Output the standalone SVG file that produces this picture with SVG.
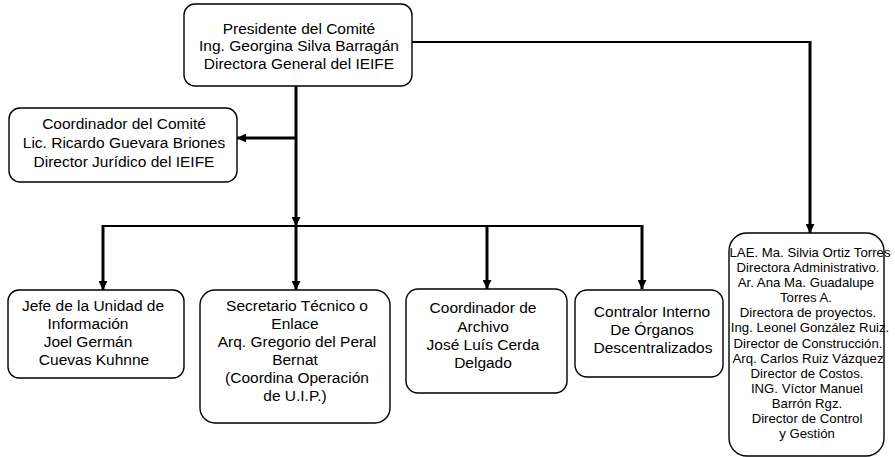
<svg xmlns="http://www.w3.org/2000/svg" width="895" height="457" viewBox="0 0 895 457">
<style>
.box{fill:#fff;stroke:#000;stroke-width:1.4}
.t{font-family:"Liberation Sans",Arial,sans-serif;font-size:15.5px;fill:#000;text-anchor:middle}
.s{font-family:"Liberation Sans",Arial,sans-serif;font-size:13.2px;fill:#000;text-anchor:middle}
.thick{fill:none;stroke:#000;stroke-width:3}
.thin{fill:none;stroke:#000;stroke-width:2}
</style>
<defs>
<marker id="ah" markerUnits="userSpaceOnUse" markerWidth="9" markerHeight="9" refX="9" refY="4.5" orient="auto">
<path d="M0,0 L9,4.5 L0,9 z" fill="#000"/>
</marker>
</defs>
<rect width="895" height="457" fill="#fff"/>
<g id="connectors">
<path class="thin" d="M412,42 H810"/>
<path class="thick" d="M810,41 V233" marker-end="url(#ah)"/>
<path class="thick" d="M296,86 V226" marker-end="url(#ah)"/>
<path class="thick" d="M296,138 H237" marker-end="url(#ah)"/>
<path class="thin" d="M103,226 H642"/>
<path class="thick" d="M103,225 V290" marker-end="url(#ah)"/>
<path class="thick" d="M296,226 V290" marker-end="url(#ah)"/>
<path class="thick" d="M487,225 V289" marker-end="url(#ah)"/>
<path class="thick" d="M642,225 V289" marker-end="url(#ah)"/>
</g>
<g id="presidente">
<rect class="box" x="184" y="4" width="228" height="82" rx="11"/>
<text class="t" x="299" y="33.5">Presidente del Comité</text>
<text class="t" x="299" y="51.3">Ing. Georgina Silva Barragán</text>
<text class="t" x="299" y="69">Directora General del IEIFE</text>
</g>
<g id="coordinador">
<rect class="box" x="9" y="108" width="228" height="74" rx="11"/>
<text class="t" x="124" y="129">Coordinador del Comité</text>
<text class="t" x="124" y="148">Lic. Ricardo Guevara Briones</text>
<text class="t" x="124" y="167">Director Jurídico del IEIFE</text>
</g>
<g id="jefe">
<rect class="box" x="8" y="290" width="176" height="88" rx="11"/>
<text class="t" x="93" y="310.7">Jefe de la Unidad de</text>
<text class="t" x="88" y="328.8">Información</text>
<text class="t" x="88" y="347">Joel Germán</text>
<text class="t" x="94" y="365">Cuevas Kuhnne</text>
</g>
<g id="secretario">
<rect class="box" x="200" y="290" width="190" height="133" rx="15"/>
<text class="t" x="297" y="310.7">Secretario Técnico o</text>
<text class="t" x="295" y="328.8">Enlace</text>
<text class="t" x="297" y="347">Arq. Gregorio del Peral</text>
<text class="t" x="295" y="365">Bernat</text>
<text class="t" x="297" y="383.2">(Coordina Operación</text>
<text class="t" x="295" y="401.4">de U.I.P.)</text>
</g>
<g id="archivo">
<rect class="box" x="406" y="289" width="161" height="104" rx="12"/>
<text class="t" x="483" y="313.3">Coordinador de</text>
<text class="t" x="483" y="331.6">Archivo</text>
<text class="t" x="483" y="350">José Luís Cerda</text>
<text class="t" x="483" y="368.3">Delgado</text>
</g>
<g id="contralor">
<rect class="box" x="575" y="290" width="148" height="87" rx="12"/>
<text class="t" x="652" y="316.7">Contralor Interno</text>
<text class="t" x="652" y="335">De Órganos</text>
<text class="t" x="653" y="353.3">Descentralizados</text>
</g>
<g id="directores">
<rect class="box" x="729" y="233" width="155" height="223" rx="18"/>
<text class="s" x="810" y="256.7">LAE. Ma. Silvia Ortiz Torres</text>
<text class="s" x="808" y="271.8">Directora Administrativo.</text>
<text class="s" x="806" y="287">Ar. Ana Ma. Guadalupe</text>
<text class="s" x="806" y="302.1">Torres A.</text>
<text class="s" x="808" y="317.2">Directora de proyectos.</text>
<text class="s" x="810" y="332.4">Ing. Leonel González Ruiz.</text>
<text class="s" x="808" y="347.5">Director de Construcción.</text>
<text class="s" x="808" y="362.6">Arq. Carlos Ruiz Vázquez</text>
<text class="s" x="807" y="377.8">Director de Costos.</text>
<text class="s" x="807" y="392.9">ING. Víctor Manuel</text>
<text class="s" x="807" y="408">Barrón Rgz.</text>
<text class="s" x="807" y="423.2">Director de Control</text>
<text class="s" x="807" y="438.3">y Gestión</text>
</g>
</svg>
